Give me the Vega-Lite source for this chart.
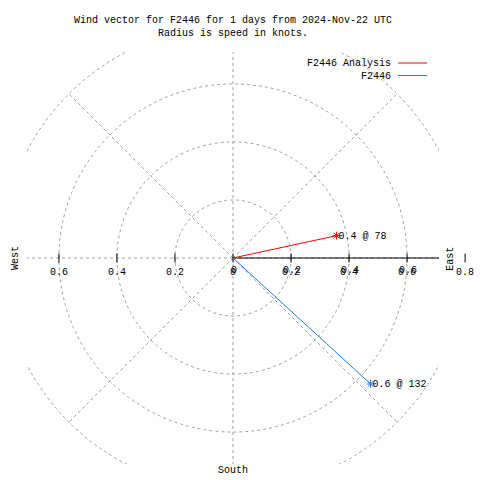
{
  "$schema": "https://vega.github.io/schema/vega-lite/v6.json",
  "width": 412,
  "height": 412,
  "autosize": {"type": "none"},
  "padding": {"left": 27, "top": 52, "right": 41, "bottom": 16},
  "background": "white",
  "config": {
    "view": {"stroke": null},
    "font": "Liberation Mono",
    "text": {"font": "Liberation Mono", "fontSize": 10, "color": "black"}
  },
  "title": {
    "text": ["Wind vector for F2446 for 1 days from 2024-Nov-22 UTC", "Radius is speed in knots."],
    "font": "Liberation Mono",
    "fontSize": 10,
    "fontWeight": "normal",
    "lineHeight": 13,
    "anchor": "middle",
    "offset": 14,
    "color": "black"
  },
  "datasets": {
    "rings": [
      {"r": 0.2, "cx": 0, "cy": 0},
      {"r": 0.4, "cx": 0, "cy": 0},
      {"r": 0.6, "cx": 0, "cy": 0},
      {"r": 0.8, "cx": 0, "cy": 0}
    ],
    "spokes": [
      {"x": 0, "y": 0, "ex": 0.8, "ey": 0},
      {"x": 0, "y": 0, "ex": 0.5657, "ey": 0.5657},
      {"x": 0, "y": 0, "ex": 0, "ey": 0.8},
      {"x": 0, "y": 0, "ex": -0.5657, "ey": 0.5657},
      {"x": 0, "y": 0, "ex": -0.8, "ey": 0},
      {"x": 0, "y": 0, "ex": -0.5657, "ey": -0.5657},
      {"x": 0, "y": 0, "ex": 0, "ey": -0.8},
      {"x": 0, "y": 0, "ex": 0.5657, "ey": -0.5657}
    ],
    "raxis": [{"x": 0, "y": 0, "ex": 0.8, "ey": 0}],
    "ticks": [
      {"v": -0.6, "y": 0, "label": "0.6", "side": "left"},
      {"v": -0.4, "y": 0, "label": "0.4", "side": "left"},
      {"v": -0.2, "y": 0, "label": "0.2", "side": "left"},
      {"v": 0, "y": 0, "label": "0", "side": "right"},
      {"v": 0.2, "y": 0, "label": "0.2", "side": "right"},
      {"v": 0.4, "y": 0, "label": "0.4", "side": "right"},
      {"v": 0.6, "y": 0, "label": "0.6", "side": "right"},
      {"v": 0.8, "y": 0, "label": "0.8", "side": "outer"}
    ],
    "compass": [
      {"name": "West", "x": -0.752, "y": 0, "angle": 270},
      {"name": "East", "x": 0.748, "y": -0.003, "angle": 270},
      {"name": "South", "x": 0, "y": -0.731, "angle": 0}
    ],
    "vectors": [
      {"series": "F2446 Analysis", "ox": 0, "oy": 0, "x": 0.357, "y": 0.077, "label": "0.4 @ 78"},
      {"series": "F2446", "ox": 0, "oy": 0, "x": 0.474, "y": -0.434, "label": "0.6 @ 132"}
    ],
    "legend": [
      {"series": "F2446 Analysis", "tx": 0.545, "sx": 0.569, "sx2": 0.669, "y": 0.672},
      {"series": "F2446", "tx": 0.545, "sx": 0.569, "sx2": 0.669, "y": 0.629}
    ]
  },
  "layer": [
    {
      "data": {"name": "rings"},
      "mark": {"type": "point", "shape": "circle", "filled": false, "stroke": "#a0a0a0", "strokeWidth": 1, "strokeDash": [3, 3], "opacity": 1, "clip": true},
      "encoding": {
        "x": {"field": "cx", "type": "quantitative", "scale": {"domain": [-0.71, 0.71], "nice": false, "zero": false}, "axis": null},
        "y": {"field": "cy", "type": "quantitative", "scale": {"domain": [-0.71, 0.71], "nice": false, "zero": false}, "axis": null},
        "size": {"field": "r", "type": "quantitative", "scale": {"type": "pow", "exponent": 2, "domain": [0, 0.8], "range": [0, 215482]}, "legend": null}
      }
    },
    {
      "data": {"name": "spokes"},
      "mark": {"type": "rule", "stroke": "#a0a0a0", "strokeWidth": 1, "strokeDash": [3, 3], "clip": true},
      "encoding": {
        "x": {"field": "x", "type": "quantitative", "axis": null},
        "y": {"field": "y", "type": "quantitative", "axis": null},
        "x2": {"field": "ex"},
        "y2": {"field": "ey"}
      }
    },
    {
      "data": {"name": "raxis"},
      "mark": {"type": "rule", "stroke": "black", "strokeWidth": 1, "clip": true},
      "encoding": {
        "x": {"field": "x", "type": "quantitative", "axis": null},
        "y": {"field": "y", "type": "quantitative", "axis": null},
        "x2": {"field": "ex"},
        "y2": {"field": "ey"}
      }
    },
    {
      "data": {"name": "ticks"},
      "mark": {"type": "tick", "orient": "vertical", "size": 9, "thickness": 1, "color": "black", "opacity": 1},
      "encoding": {
        "x": {"field": "v", "type": "quantitative", "axis": null},
        "y": {"field": "y", "type": "quantitative", "axis": null}
      }
    },
    {
      "data": {"name": "ticks"},
      "mark": {"type": "text", "baseline": "middle", "align": "center", "dy": 14},
      "encoding": {
        "x": {"field": "v", "type": "quantitative", "axis": null},
        "y": {"field": "y", "type": "quantitative", "axis": null},
        "text": {"field": "label"}
      }
    },
    {
      "data": {"name": "ticks"},
      "transform": [{"filter": "datum.side == 'right'"}],
      "mark": {"type": "text", "baseline": "middle", "align": "center", "dx": 1, "dy": 12},
      "encoding": {
        "x": {"field": "v", "type": "quantitative", "axis": null},
        "y": {"field": "y", "type": "quantitative", "axis": null},
        "text": {"field": "label"}
      }
    },
    {
      "data": {"name": "compass"},
      "mark": {"type": "text", "baseline": "middle", "align": "center"},
      "encoding": {
        "x": {"field": "x", "type": "quantitative", "axis": null},
        "y": {"field": "y", "type": "quantitative", "axis": null},
        "angle": {"field": "angle", "type": "quantitative", "scale": null},
        "text": {"field": "name"}
      }
    },
    {
      "data": {"name": "vectors"},
      "mark": {"type": "rule", "strokeWidth": 1},
      "encoding": {
        "x": {"field": "ox", "type": "quantitative", "axis": null},
        "y": {"field": "oy", "type": "quantitative", "axis": null},
        "x2": {"field": "x"},
        "y2": {"field": "y"},
        "color": {"field": "series", "type": "nominal", "scale": {"domain": ["F2446 Analysis", "F2446"], "range": ["#ff0000", "#1a7fe8"]}, "legend": null}
      }
    },
    {
      "data": {"name": "vectors"},
      "mark": {"type": "point", "shape": "M-1,0L1,0M0,-1L0,1M-0.7,-0.7L0.7,0.7M-0.7,0.7L0.7,-0.7", "size": 64, "filled": false, "strokeWidth": 1, "opacity": 1},
      "encoding": {
        "x": {"field": "x", "type": "quantitative", "axis": null},
        "y": {"field": "y", "type": "quantitative", "axis": null},
        "color": {"field": "series", "type": "nominal", "legend": null}
      }
    },
    {
      "data": {"name": "vectors"},
      "mark": {"type": "text", "align": "left", "baseline": "middle", "dx": 2},
      "encoding": {
        "x": {"field": "x", "type": "quantitative", "axis": null},
        "y": {"field": "y", "type": "quantitative", "axis": null},
        "text": {"field": "label"}
      }
    },
    {
      "data": {"name": "legend"},
      "mark": {"type": "text", "align": "right", "baseline": "middle"},
      "encoding": {
        "x": {"field": "tx", "type": "quantitative", "axis": null},
        "y": {"field": "y", "type": "quantitative", "axis": null},
        "text": {"field": "series"}
      }
    },
    {
      "data": {"name": "legend"},
      "mark": {"type": "rule", "strokeWidth": 1},
      "encoding": {
        "x": {"field": "sx", "type": "quantitative", "axis": null},
        "x2": {"field": "sx2"},
        "y": {"field": "y", "type": "quantitative", "axis": null},
        "color": {"field": "series", "type": "nominal", "legend": null}
      }
    }
  ]
}
